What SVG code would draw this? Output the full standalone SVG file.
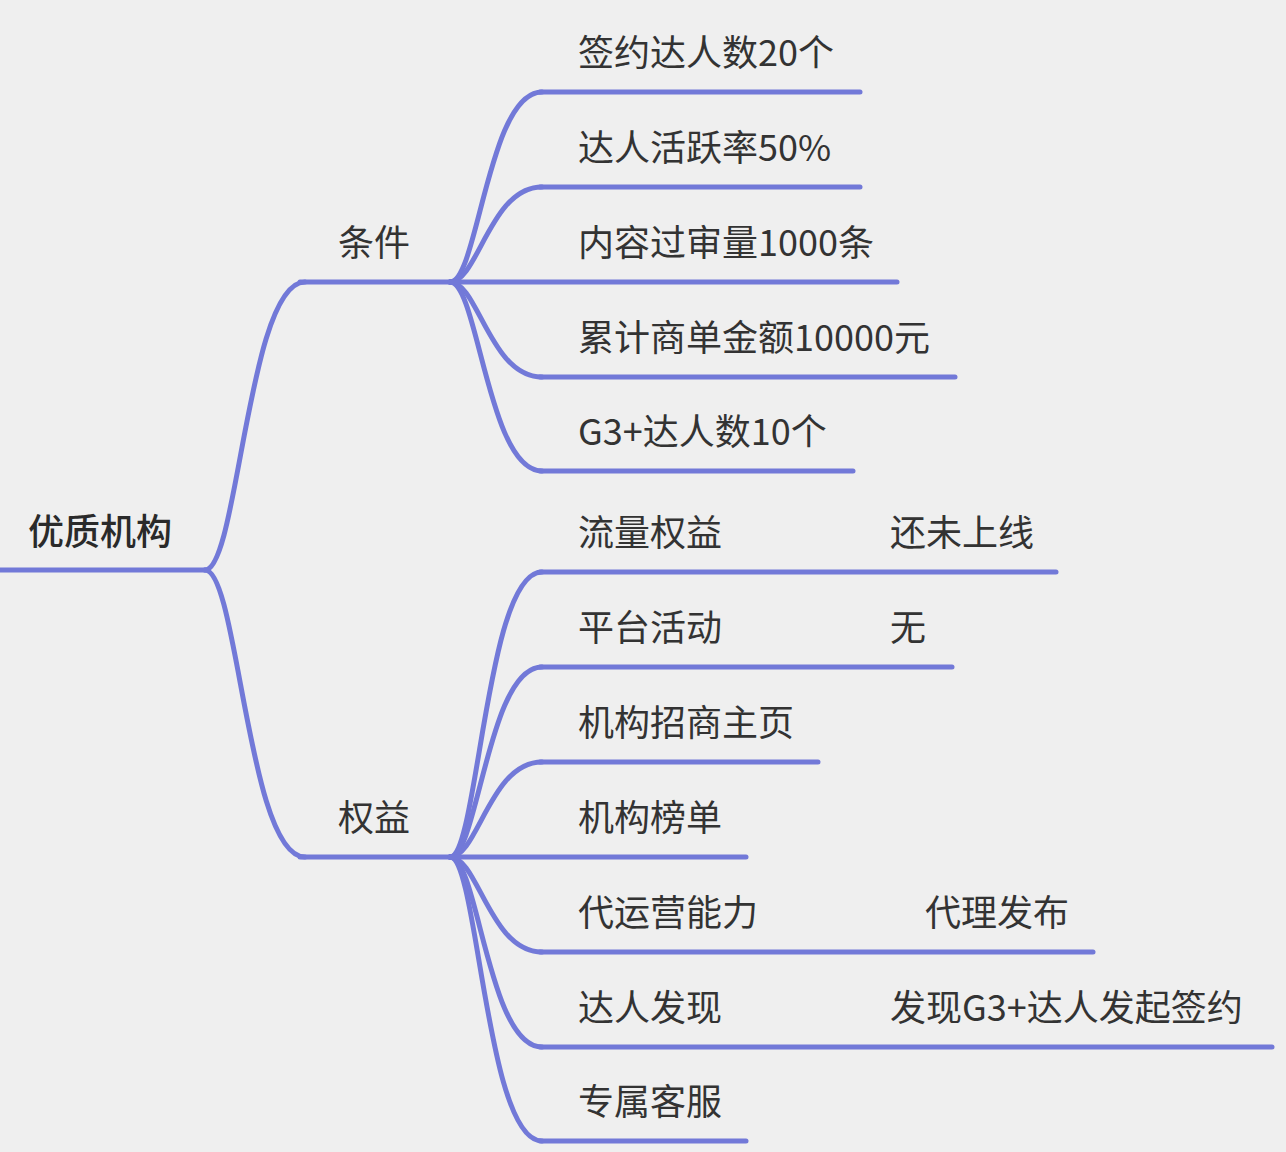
<svg xmlns="http://www.w3.org/2000/svg" width="1286" height="1152" viewBox="0 0 1286 1152">
<style>
.t{font-family:"Noto Sans CJK SC","Noto Sans",sans-serif;font-size:36px;fill:#333333}
.r{font-weight:500;fill:#2a2a2a}
.l{fill:none;stroke:#7279d8;stroke-width:5;stroke-linecap:round;stroke-linejoin:round}
</style>
<rect x="0" y="0" width="1286" height="1152" fill="#efefef"/>
<g id="connectors">
<path class="l" d="M205,570 C238,570 248,282 305,282"/>
<path class="l" d="M205,570 C238,570 248,857 305,857"/>
<path class="l" d="M450,282 C478,282 488,92 542,92"/>
<path class="l" d="M450,282 C478,282 490,187 542,187"/>
<path class="l" d="M450,282 C478,282 490,377 542,377"/>
<path class="l" d="M450,282 C478,282 488,471 542,471"/>
<path class="l" d="M450,857 C478,857 486,572 542,572"/>
<path class="l" d="M450,857 C478,857 488,667 542,667"/>
<path class="l" d="M450,857 C478,857 490,762 542,762"/>
<path class="l" d="M450,857 C478,857 490,952 542,952"/>
<path class="l" d="M450,857 C478,857 488,1047 542,1047"/>
<path class="l" d="M450,857 C478,857 486,1141 542,1141"/>
</g>
<g id="root"><line class="l" x1="0" y1="570" x2="205" y2="570"/><text class="t r" x="28" y="545">优质机构</text></g>
<g id="n-tiaojian"><line class="l" x1="300" y1="282" x2="450" y2="282"/><text class="t" x="338" y="256">条件</text></g>
<g id="n-quanyi"><line class="l" x1="300" y1="857" x2="450" y2="857"/><text class="t" x="338" y="831">权益</text></g>
<g id="c1"><line class="l" x1="540" y1="92" x2="860" y2="92"/><text class="t" x="578" y="66">签约达人数20个</text></g>
<g id="c2"><line class="l" x1="540" y1="187" x2="860" y2="187"/><text class="t" x="578" y="161">达人活跃率50%</text></g>
<g id="c3"><line class="l" x1="450" y1="282" x2="897" y2="282"/><text class="t" x="578" y="256">内容过审量1000条</text></g>
<g id="c4"><line class="l" x1="540" y1="377" x2="955" y2="377"/><text class="t" x="578" y="351">累计商单金额10000元</text></g>
<g id="c5"><line class="l" x1="540" y1="471" x2="853" y2="471"/><text class="t" x="578" y="445">G3+达人数10个</text></g>
<g id="q1"><line class="l" x1="540" y1="572" x2="1056" y2="572"/><text class="t" x="578" y="546">流量权益</text><text class="t" x="890" y="546">还未上线</text></g>
<g id="q2"><line class="l" x1="540" y1="667" x2="952" y2="667"/><text class="t" x="578" y="641">平台活动</text><text class="t" x="890" y="641">无</text></g>
<g id="q3"><line class="l" x1="540" y1="762" x2="818" y2="762"/><text class="t" x="578" y="736">机构招商主页</text></g>
<g id="q4"><line class="l" x1="450" y1="857" x2="746" y2="857"/><text class="t" x="578" y="831">机构榜单</text></g>
<g id="q5"><line class="l" x1="540" y1="952" x2="1093" y2="952"/><text class="t" x="578" y="926">代运营能力</text><text class="t" x="925" y="926">代理发布</text></g>
<g id="q6"><line class="l" x1="540" y1="1047" x2="1272" y2="1047"/><text class="t" x="578" y="1021">达人发现</text><text class="t" x="890" y="1021">发现G3+达人发起签约</text></g>
<g id="q7"><line class="l" x1="540" y1="1141" x2="746" y2="1141"/><text class="t" x="578" y="1115">专属客服</text></g>
</svg>
